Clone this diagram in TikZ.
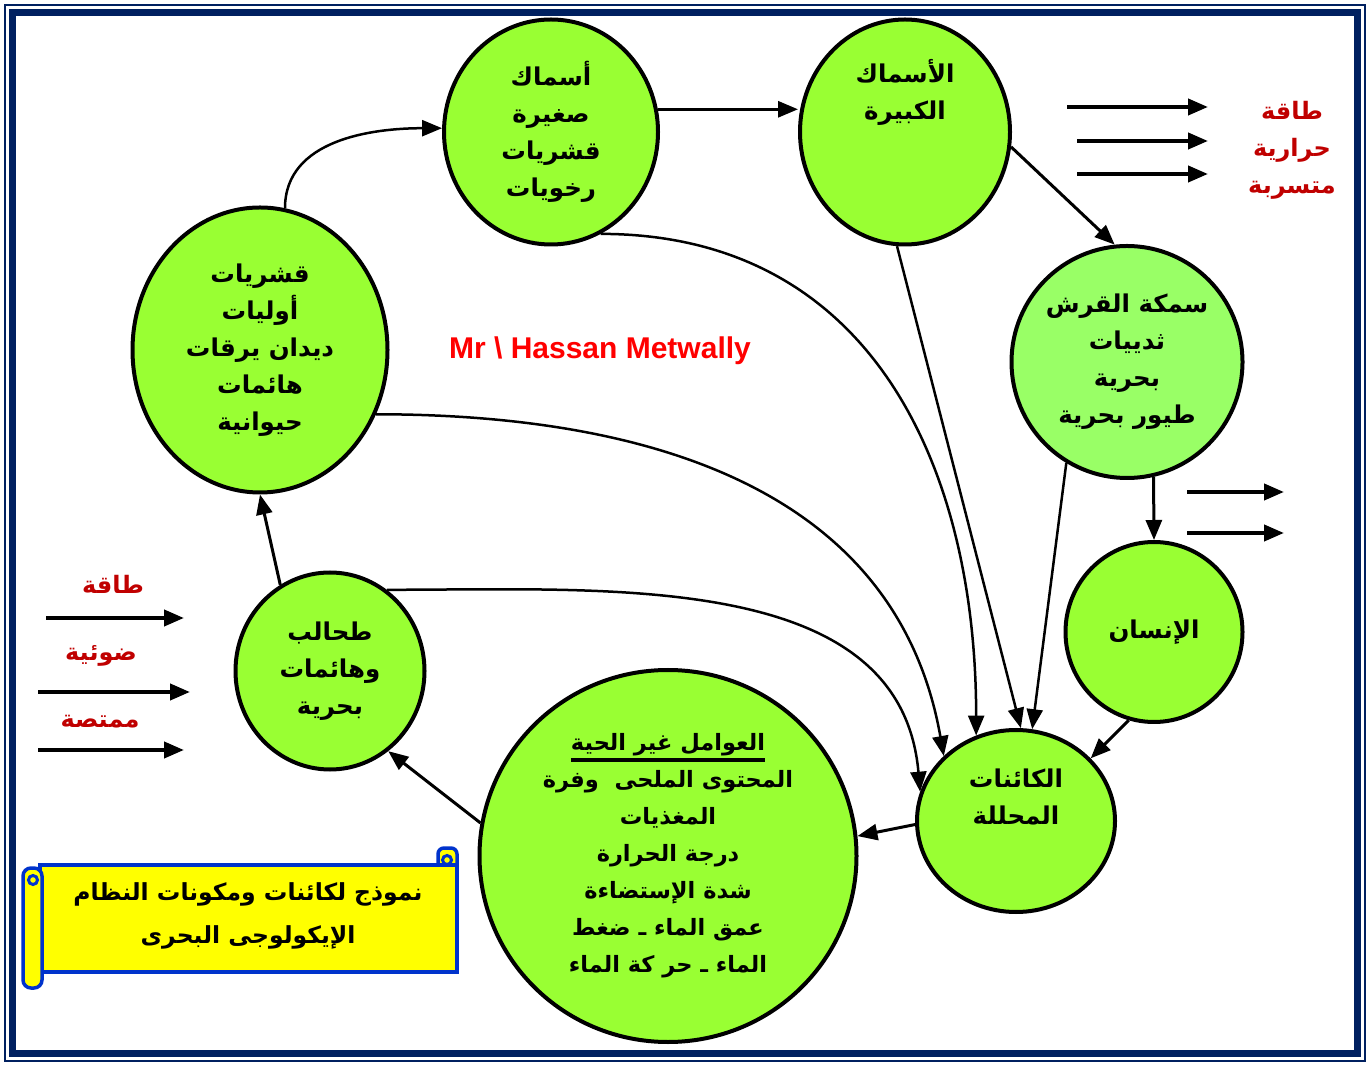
\documentclass[tikz,border=0pt]{standalone}
\usepackage{fontspec}
\setmainfont{Liberation Sans}
\newfontfamily\arabicfont[Script=Arabic]{DejaVu Sans}
\TeXXeTstate=1
\usetikzlibrary{arrows.meta,shapes.geometric}
\definecolor{cLeaf}{HTML}{99FF33}
\definecolor{cLeafPale}{HTML}{99FF66}
\definecolor{cInk}{HTML}{000000}
\definecolor{cHeat}{HTML}{C00000}
\definecolor{cSign}{HTML}{FF0000}
\definecolor{cFrame}{HTML}{002060}
\definecolor{cScroll}{HTML}{FFFF00}
\definecolor{cScrollEdge}{HTML}{0033CC}
\newcommand{\artxt}[1]{{\arabicfont\bfseries\beginR #1\endR}}
\newcommand{\ulbar}[1]{\vtop{\hbox{#1}\kern2pt\hrule height 3.5pt}}
\tikzset{
  every picture/.style={line width=1.2pt},
  pool/.style={ellipse, draw=cInk, line width=4pt, fill=cLeaf, inner sep=0pt,
               align=center, text=cInk, font=\fontsize{24.5}{37}\selectfont},
  ann/.style={align=center, text=cHeat, inner sep=1pt, font=\fontsize{24}{37}\selectfont},
  flow/.style={-{Triangle[length=20pt,width=16pt]}, draw=cInk, line width=3pt},
  cflow/.style={flow, line width=2.5pt},
  eflow/.style={flow, line width=4pt},
  scroll/.style={draw=cScrollEdge, fill=cScroll, line width=3.5pt},
}
\begin{document}
\begin{tikzpicture}[x=1pt,y=1pt]
\useasboundingbox (0,0) rectangle (1370,1066);

% ------------------------------------------------------------ frame
\draw[cFrame, line width=1.5pt] (5,5) rectangle (1365,1061);
\draw[cFrame, line width=7pt] (12.5,12.5) rectangle (1357.5,1053.5);

% ------------------------------------------------------------ the food chain
\node[pool, minimum width=214pt, minimum height=225pt] (sfish) at (551,934)
      {\artxt{أسماك}\\\artxt{صغيرة}\\\artxt{قشريات}\\\artxt{رخويات}};
\node[pool, minimum width=210pt, minimum height=225pt] (bfish) at (905,934)
      {\artxt{الأسماك}\\\artxt{الكبيرة}\\\strut\\\strut};
\node[pool, fill=cLeafPale, minimum width=231pt, minimum height=232pt] (shark) at (1127,704)
      {\artxt{سمكة القرش}\\\artxt{ثدييات}\\\artxt{بحرية}\\\artxt{طيور بحرية}};
\node[pool, minimum width=177pt, minimum height=180pt] (human) at (1154,434)
      {\artxt{الإنسان}};
\node[pool, minimum width=198pt, minimum height=182pt] (decomp) at (1016,245)
      {\artxt{الكائنات}\\\artxt{المحللة}\\\strut};
\node[pool, minimum width=377pt, minimum height=372pt,
      font=\fontsize{22.5}{37}\selectfont] (abio) at (668,210)
      {\ulbar{\artxt{العوامل غير الحية}}\\\artxt{المحتوى الملحى\ \ وفرة}\\\artxt{المغذيات}\\
       \artxt{درجة الحرارة}\\\artxt{شدة الإستضاءة}\\\artxt{عمق الماء ـ ضغط}\\
       \artxt{الماء ـ حر كة الماء}};
\node[pool, minimum width=189pt, minimum height=197pt] (algae) at (330,395)
      {\artxt{طحالب}\\\artxt{وهائمات}\\\artxt{بحرية}};
\node[pool, minimum width=255pt, minimum height=285pt] (zoo) at (260,716)
      {\artxt{قشريات}\\\artxt{أوليات}\\\artxt{ديدان يرقات}\\\artxt{هائمات}\\\artxt{حيوانية}};

\draw[cflow] (zoo.80) to[out=90,in=180] (sfish.178);
\draw[flow] (sfish.12) -- (sfish.12 -| bfish.west);
\draw[flow] (bfish.-8) -- (shark.96);
\draw[flow] (shark.-77) -- (human.north);
\draw[flow] (human.-106) -- (decomp.40);
\draw[flow] (decomp.182) -- (abio.6);
\draw[flow] (abio.170) -- (algae.-54);
\draw[flow] (algae.120) -- (zoo.south);

% everything ends with the decomposers
\draw[cflow] (sfish.-64) to[out=0,in=90,looseness=1.1] (decomp.115);
\draw[cflow] (bfish.-94) -- (decomp.87);
\draw[cflow] (shark.-121) -- (decomp.80);
\draw[cflow] (zoo.-29) to[out=0,in=100,looseness=1.05] (decomp.138);
\draw[cflow] (algae.55) to[out=0,in=95] (decomp.163);

% ------------------------------------------------------------ energy in and out
\coordinate (h1a) at (1067,959); \coordinate (h1b) at (1208,959);
\coordinate (h2a) at (1077,925); \coordinate (h2b) at (1208,925);
\coordinate (h3a) at (1077,892); \coordinate (h3b) at (1208,892);
\draw[eflow] (h1a) -- (h1b);
\draw[eflow] (h2a) -- (h2b);
\draw[eflow] (h3a) -- (h3b);
\node[ann] (heat) at (1292,916) {\artxt{طاقة}\\\artxt{حرارية}\\\artxt{متسربة}};

\coordinate (o1a) at (1187,574); \coordinate (o1b) at (1284,574);
\coordinate (o2a) at (1187,533); \coordinate (o2b) at (1284,533);
\draw[eflow] (o1a) -- (o1b);
\draw[eflow] (o2a) -- (o2b);

\node[ann] (sun1) at (113,482) {\artxt{طاقة}};
\node[ann] (sun2) at (101,410) {\artxt{ضوئية}};
\node[ann] (sun3) at (100,344) {\artxt{ممتصة}};
\coordinate (l1a) at (46,448); \coordinate (l1b) at (184,448);
\coordinate (l2a) at (38,374); \coordinate (l2b) at (190,374);
\coordinate (l3a) at (38,316); \coordinate (l3b) at (184,316);
\draw[eflow] (l1a) -- (l1b);
\draw[eflow] (l2a) -- (l2b);
\draw[eflow] (l3a) -- (l3b);

% ------------------------------------------------------------ signature
\node[text=cSign, font=\fontsize{30}{34}\selectfont\bfseries] (sign) at (600,715)
      {Mr \textbackslash{} Hassan Metwally};

% ------------------------------------------------------------ title scroll
\draw[scroll, rounded corners=6pt] (438,190) rectangle (457,218);
\draw[scroll] (40,94) rectangle (457,201);
\draw[scroll, rounded corners=8pt] (23,78) rectangle (42,198);
\draw[cScrollEdge, line width=3pt] (33,186) circle (4.5);
\draw[cScrollEdge, line width=3pt] (447,206) circle (4.5);
\node[align=center, text=cInk, font=\fontsize{23.5}{43}\selectfont] (title) at (248,150)
      {\artxt{نموذج لكائنات ومكونات النظام}\\\artxt{الإيكولوجى البحرى}};

\end{tikzpicture}
\end{document}
